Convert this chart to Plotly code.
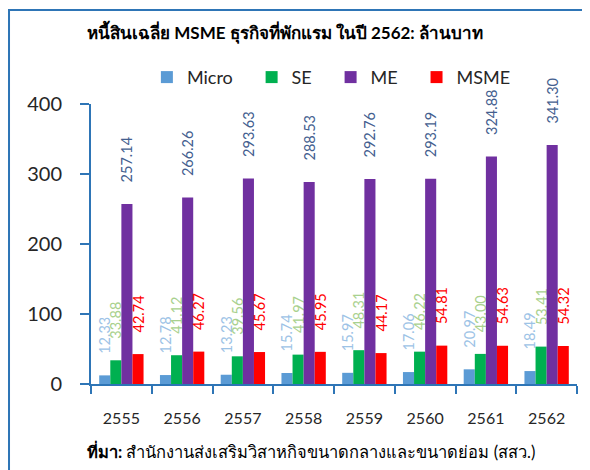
import plotly.graph_objects as go

years = ["2555", "2556", "2557", "2558", "2559", "2560", "2561", "2562"]
micro = [12.33, 12.78, 13.23, 15.74, 15.97, 17.06, 20.97, 18.49]
se = [33.88, 41.12, 39.56, 41.97, 48.31, 46.22, 43.00, 53.41]
me = [257.14, 266.26, 293.63, 288.53, 292.76, 293.19, 324.88, 341.30]
msme = [42.74, 46.27, 45.67, 45.95, 44.17, 54.81, 54.63, 54.32]

series = [
    ("Micro", micro, "#5B9BD5", "#9DC3E6"),
    ("SE", se, "#00B050", "#A9D18E"),
    ("ME", me, "#7030A0", "#44608F"),
    ("MSME", msme, "#FF0000", "#FF0000"),
]

FONT = "Lato, 'Noto Sans', 'DejaVu Sans', sans-serif"
AX = "#2E75B6"
PAD = "\u00a0" * 3

fig = go.Figure()
for name, vals, col, tcol in series:
    fig.add_trace(go.Bar(
        name=name + PAD, x=years, y=vals,
        marker=dict(color=col, line=dict(width=0)),
        texttemplate="\u00a0" * 5 + "%{y:.2f}",
        textposition="outside", textangle=-90,
        constraintext="none", cliponaxis=False,
        textfont=dict(size=14.5, color=tcol, family=FONT),
        hoverinfo="skip",
    ))

fig.update_layout(
    width=582, height=462,
    paper_bgcolor="white", plot_bgcolor="white",
    margin=dict(l=83, r=13, t=96, b=86),
    barmode="group", bargap=0.27, bargroupgap=0,
    font=dict(family=FONT, color="#262626"),
    showlegend=True,
    legend=dict(orientation="h", x=0.115, xanchor="left", y=1.095, yanchor="middle",
                font=dict(size=18, color="#262626"), traceorder="normal",
                bgcolor="rgba(0,0,0,0)"),
    title=dict(text="<b>หนี้สินเฉลี่ย MSME ธุรกิจที่พักแรม ในปี 2562: ล้านบาท</b>",
               x=0.476, xanchor="center", y=0.945, yanchor="middle",
               font=dict(size=17, color="#000000")),
)
fig.update_yaxes(range=[0, 400], dtick=100, showgrid=False, zeroline=False,
                 showline=True, linecolor=AX, linewidth=2,
                 ticks="outside", ticklen=9, tickcolor=AX, tickwidth=2,
                 tickfont=dict(size=20, color="#262626"), ticklabelstandoff=14)
fig.update_xaxes(showgrid=False, showline=True, linecolor=AX, linewidth=2,
                 ticks="outside", tickson="boundaries", ticklen=8, tickcolor=AX, tickwidth=2,
                 tickfont=dict(size=16, color="#262626"), ticklabelstandoff=19)

# outer frame
fig.add_shape(type="rect", xref="paper", yref="paper",
              x0=-0.1687, x1=1.2, y0=-0.5, y1=1.3357,
              line=dict(color=AX, width=2), fillcolor="rgba(0,0,0,0)", layer="below")

fig.add_annotation(xref="paper", yref="paper", x=-0.012, xanchor="left",
                   y=-0.239, yanchor="middle", showarrow=False,
                   text="<b>ที่มา:</b> สำนักงานส่งเสริมวิสาหกิจขนาดกลางและขนาดย่อม (สสว.)",
                   font=dict(size=16.5, color="#000000"))

fig.write_html("out.html")
